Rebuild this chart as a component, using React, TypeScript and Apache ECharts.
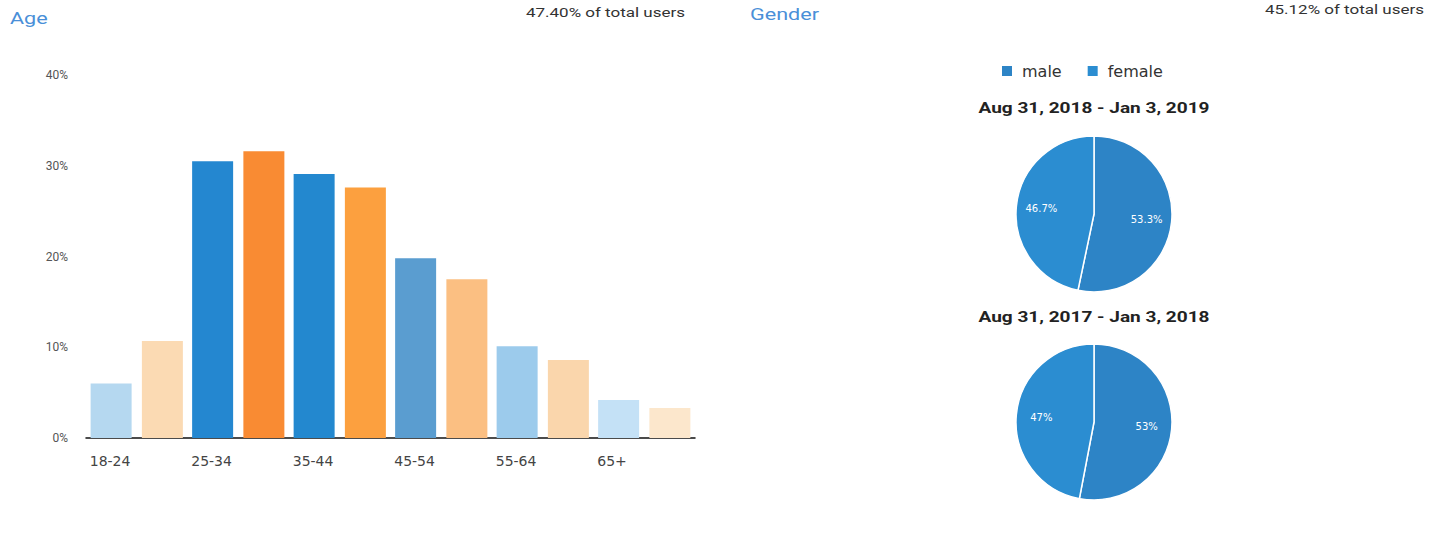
import React, { useEffect, useRef } from "react";
import * as echarts from "echarts";

const ageCategories = ["18-24", "25-34", "35-44", "45-54", "55-64", "65+"];
const currentValues = [6.0, 30.5, 29.1, 19.8, 10.1, 4.2];
const previousValues = [10.7, 31.6, 27.6, 17.5, 8.6, 3.3];
const currentColors = ["#b5d8f0", "#2487d0", "#2388cf", "#5a9dd0", "#9ccbec", "#c4e1f6"];
const previousColors = ["#fbdab3", "#f98b33", "#fca03f", "#fbbf82", "#fad6ac", "#fce7cc"];
const yTicks = [0, 10, 20, 30, 40];

const genderNames = ["male", "female"];
const genderCurrent = [53.3, 46.7];
const genderPrevious = [53, 47];
const genderLabelsCurrent = ["53.3%", "46.7%"];
const genderLabelsPrevious = ["53%", "47%"];
const genderColors = ["#2d84c6", "#2b8dd1"];

const periodCurrent = "Aug 31, 2018 - Jan 3, 2019";
const periodPrevious = "Aug 31, 2017 - Jan 3, 2018";
const ageTitle = "Age";
const ageShare = "47.40% of total users";
const genderTitle = "Gender";
const genderShare = "45.12% of total users";

export default function App() {
  const ref = useRef<HTMLDivElement>(null);
  useEffect(() => {
    const chart = echarts.init(ref.current!, null, { renderer: "svg" });
    const font = "Roboto, Arial, sans-serif";
    const wide = "'DejaVu Sans', Roboto, sans-serif";
    const txt = (
      text: string,
      x: number,
      y: number,
      size: number,
      sx: number,
      color: string,
      align: string,
      weight: string = "normal"
    ) => ({
      type: "text",
      x,
      y,
      scaleX: sx,
      silent: true,
      style: {
        text,
        fontSize: size,
        fontFamily: font,
        fontWeight: weight,
        fill: color,
        align,
        verticalAlign: "middle",
      },
    });
    const pieSeries = (name: string, vals: number[], labels: string[], cy: number) => ({
      type: "pie",
      name,
      center: [1094, cy],
      radius: [0, 78],
      startAngle: 90,
      clockwise: true,
      data: genderNames.map((n, i) => ({
        name: n,
        value: vals[i],
        itemStyle: { color: genderColors[i] },
        label: { formatter: labels[i] },
      })),
      itemStyle: { borderColor: "#ffffff", borderWidth: 1.5 },
      label: {
        show: true,
        position: "inside",
        color: "#ffffff",
        fontSize: 10,
        fontFamily: wide,
      },
      labelLayout: (p: any) => {
        const r = p.labelRect;
        const lx = r.x + r.width / 2;
        const ly = r.y + r.height / 2;
        const k = 0.26;
        return { dx: (lx - 1094) * k, dy: (ly - cy) * k };
      },
      labelLine: { show: false },
      emphasis: { disabled: true },
    });
    chart.setOption({
      animation: false,
      backgroundColor: "#ffffff",
      graphic: [
        txt(ageTitle, 10, 18, 17, 1.27, "#4a8fd8", "left"),
        txt(ageShare, 685, 13, 12.5, 1.36, "#333333", "right"),
        txt(genderTitle, 750, 14, 17, 1.27, "#4a8fd8", "left"),
        txt(genderShare, 1424, 10, 12.5, 1.36, "#333333", "right"),
        txt(periodCurrent, 1094, 108, 15, 1.27, "#222222", "center", "bold"),
        txt(periodPrevious, 1094, 317, 15, 1.27, "#222222", "center", "bold"),
      ],
      legend: {
        data: genderNames,
        left: 1000,
        top: 63,
        padding: 0,
        icon: "rect",
        itemWidth: 12,
        itemHeight: 12,
        itemGap: 24,
        textStyle: { color: "#333333", fontSize: 16, fontFamily: wide, padding: [0, 0, 0, 4] },
        selectedMode: false,
      },
      grid: { left: 86, right: 1443 - 695, top: 75, bottom: 544 - 438 },
      xAxis: {
        type: "category",
        data: ageCategories,
        axisLine: { lineStyle: { color: "#111111", width: 1.5 } },
        axisTick: { show: false },
        axisLabel: {
          color: "#444444",
          fontSize: 14,
          fontFamily: wide,
          align: "right",
          margin: 16,
          formatter: "{a|{value}}",
          rich: {
            a: { width: 47, align: "left", fontSize: 14, fontFamily: wide, color: "#444444" },
          },
        },
      },
      yAxis: {
        type: "value",
        min: yTicks[0],
        max: yTicks[yTicks.length - 1],
        interval: 10,
        splitLine: { show: false },
        axisLine: { show: false },
        axisTick: { show: false },
        axisLabel: { formatter: "{value}%", color: "#555555", fontSize: 12, fontFamily: font, margin: 18 },
      },
      series: [
        {
          type: "bar",
          name: periodCurrent,
          data: currentValues.map((v, i) => ({ value: v, itemStyle: { color: currentColors[i] } })),
          barWidth: 41,
          barGap: "25%",
          emphasis: { disabled: true },
        },
        {
          type: "bar",
          name: periodPrevious,
          data: previousValues.map((v, i) => ({ value: v, itemStyle: { color: previousColors[i] } })),
          barWidth: 41,
          barGap: "25%",
          emphasis: { disabled: true },
        },
        pieSeries(periodCurrent, genderCurrent, genderLabelsCurrent, 214),
        pieSeries(periodPrevious, genderPrevious, genderLabelsPrevious, 422),
      ],
    });
    return () => chart.dispose();
  }, []);
  return (
    <div
      ref={ref}
      style={{ position: "absolute", left: 0, top: 0, width: 1443, height: 544 }}
    />
  );
}
